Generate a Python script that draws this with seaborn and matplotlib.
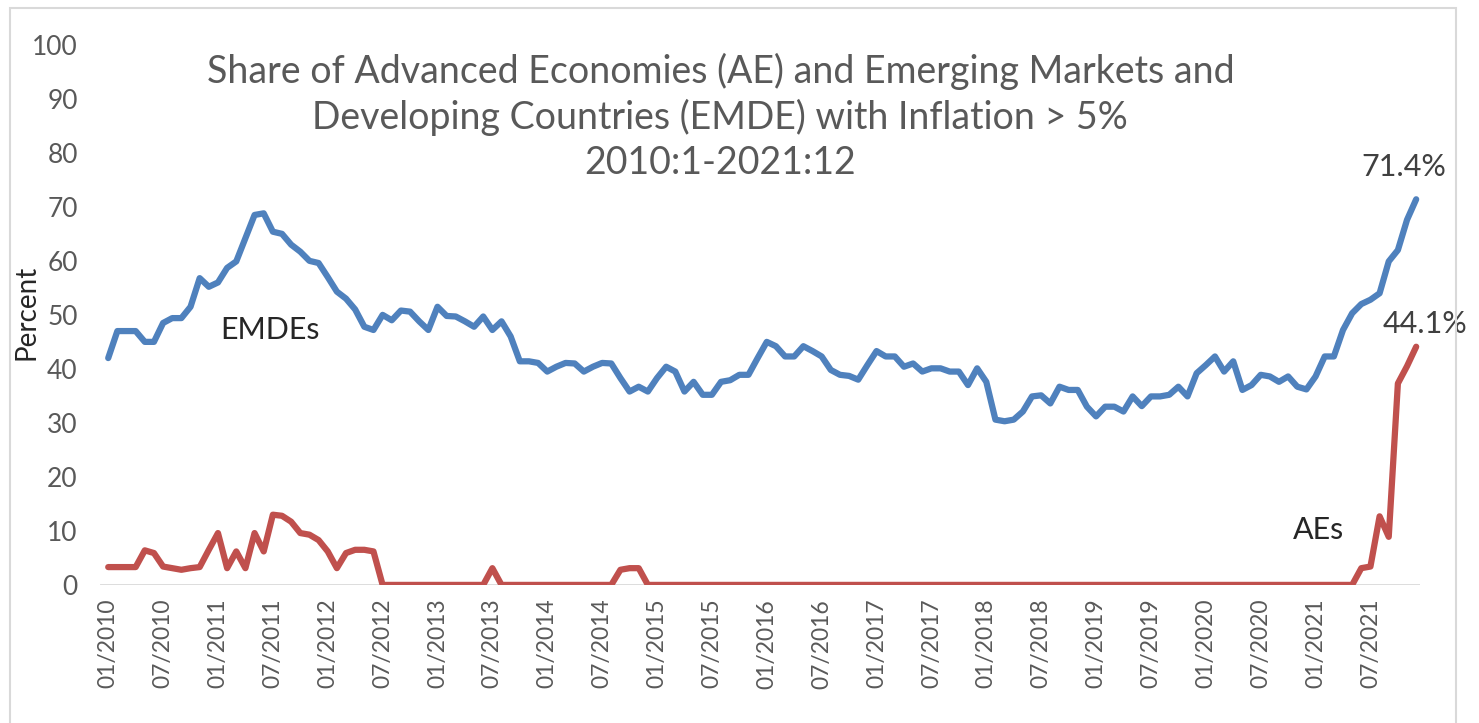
import numpy as np
import pandas as pd
import matplotlib
matplotlib.use("Agg")
import matplotlib.pyplot as plt
import seaborn as sns

# monthly labels 2010:1 - 2021:12
months = [f"{m:02d}/{y}" for y in range(2010, 2022) for m in range(1, 13)]

# share of EMDEs with inflation > 5%
emde = [42, 47, 47, 47, 45, 45, 48.5, 49.4, 49.4, 51.5, 56.8, 55.2,
        56, 58.7, 59.9, 64.2, 68.5, 68.8, 65.4, 65, 63, 61.7, 60, 59.6,
        57, 54.3, 53, 51, 47.8, 47.2, 50, 49, 50.8, 50.6, 48.8, 47.2,
        51.5, 49.8, 49.7, 48.8, 47.8, 49.7, 47.2, 48.8, 46, 41.4, 41.4, 41.1,
        39.5, 40.4, 41.1, 41, 39.5, 40.4, 41.1, 41, 38.3, 35.8, 36.7, 35.8,
        38.3, 40.4, 39.5, 35.8, 37.6, 35.2, 35.2, 37.6, 37.9, 38.9, 38.9, 42,
        45, 44.2, 42.3, 42.3, 44.2, 43.3, 42.3, 39.8, 38.9, 38.7, 38, 40.7,
        43.3, 42.3, 42.3, 40.4, 41, 39.5, 40.1, 40.1, 39.5, 39.5, 37, 40.1,
        37.6, 30.6, 30.3, 30.6, 32.1, 34.9, 35.1, 33.6, 36.7, 36.1, 36.1, 33,
        31.2, 33, 33, 32.1, 34.9, 33.1, 34.9, 34.9, 35.2, 36.7, 34.9, 39.2,
        40.7, 42.3, 39.5, 41.4, 36.1, 37, 38.9, 38.6, 37.6, 38.6, 36.7, 36.2,
        38.6, 42.3, 42.3, 47.2, 50.3, 52, 52.8, 54, 59.9, 62, 67.6, 71.4]

# share of AEs with inflation > 5%
ae = [3.3, 3.3, 3.3, 3.3, 6.4, 5.9, 3.4, 3.1, 2.8, 3.1, 3.3, 6.5,
      9.6, 3.1, 6.2, 3.1, 9.6, 6.2, 13, 12.8, 11.7, 9.6, 9.3, 8.3,
      6.2, 3.1, 5.9, 6.5, 6.5, 6.2, 0, 0, 0, 0, 0, 0,
      0, 0, 0, 0, 0, 0, 3.1, 0, 0, 0, 0, 0,
      0, 0, 0, 0, 0, 0, 0, 0, 2.8, 3.1, 3.1, 0,
      0, 0, 0, 0, 0, 0, 0, 0, 0, 0, 0, 0,
      0, 0, 0, 0, 0, 0, 0, 0, 0, 0, 0, 0,
      0, 0, 0, 0, 0, 0, 0, 0, 0, 0, 0, 0,
      0, 0, 0, 0, 0, 0, 0, 0, 0, 0, 0, 0,
      0, 0, 0, 0, 0, 0, 0, 0, 0, 0, 0, 0,
      0, 0, 0, 0, 0, 0, 0, 0, 0, 0, 0, 0,
      0, 0, 0, 0, 0, 3.1, 3.4, 12.7, 8.9, 37.3, 40.5, 44.1]

df = pd.DataFrame({"t": list(range(len(months))) * 2,
                   "value": emde + ae,
                   "group": ["EMDEs"] * len(emde) + ["AEs"] * len(ae)})

sns.set_style("white")
plt.rcParams['font.family'] = ['Lato', 'DejaVu Sans']

fig = plt.figure(figsize=(14.79, 7.23), dpi=100)
ax = fig.add_axes([0.0676, 0.191, 0.8924, 0.747])

# light frame around the chart
fig.patches.append(plt.Rectangle((10 / 1479, -0.1), 1446 / 1479, 1.1 - 8 / 723,
                                 transform=fig.transFigure, fill=False,
                                 edgecolor='#D9D9D9', linewidth=1.5))

ax.axhline(0, color='#D9D9D9', linewidth=2, zorder=1)
sns.lineplot(data=df, x="t", y="value", hue="group",
             palette={"EMDEs": "#4F81BD", "AEs": "#C0504D"},
             linewidth=4.5, legend=False, ax=ax, zorder=3)

ax.set_xlim(-0.9, 143.4)
ax.set_ylim(0, 100)
ax.set_yticks(range(0, 101, 10))
ax.set_xticks(range(0, len(months), 6))
ax.set_xticklabels(months[::6], rotation=90)
ax.tick_params(axis='y', labelsize=19, labelcolor='#595959', length=0, pad=16)
ax.tick_params(axis='x', labelsize=16.5, labelcolor='#595959', length=0, pad=10)
for s in ax.spines.values():
    s.set_visible(False)
ax.set_xlabel("")
ax.set_ylabel("Percent", fontsize=20, color='#262626')
ax.yaxis.set_label_coords(-0.046, 0.505)

ax.text(0.47, 0.985,
        "Share of Advanced Economies (AE) and Emerging Markets and\n"
        "Developing Countries (EMDE) with Inflation > 5%\n2010:1-2021:12",
        transform=ax.transAxes, ha='center', va='top', fontsize=27,
        color='#595959', linespacing=1.3)

ax.text(17.7, 47.2, "EMDEs", fontsize=22, color='#262626', ha='center', va='center')
ax.text(132.3, 10.2, "AEs", fontsize=22, color='#262626', ha='center', va='center')
ax.text(141.6, 77.4, "71.4%", fontsize=22, color='#404040', ha='center', va='center')
ax.text(144.0, 48.3, "44.1%", fontsize=22, color='#404040', ha='center', va='center',
        clip_on=False)

plt.savefig("out.png", dpi=100)
